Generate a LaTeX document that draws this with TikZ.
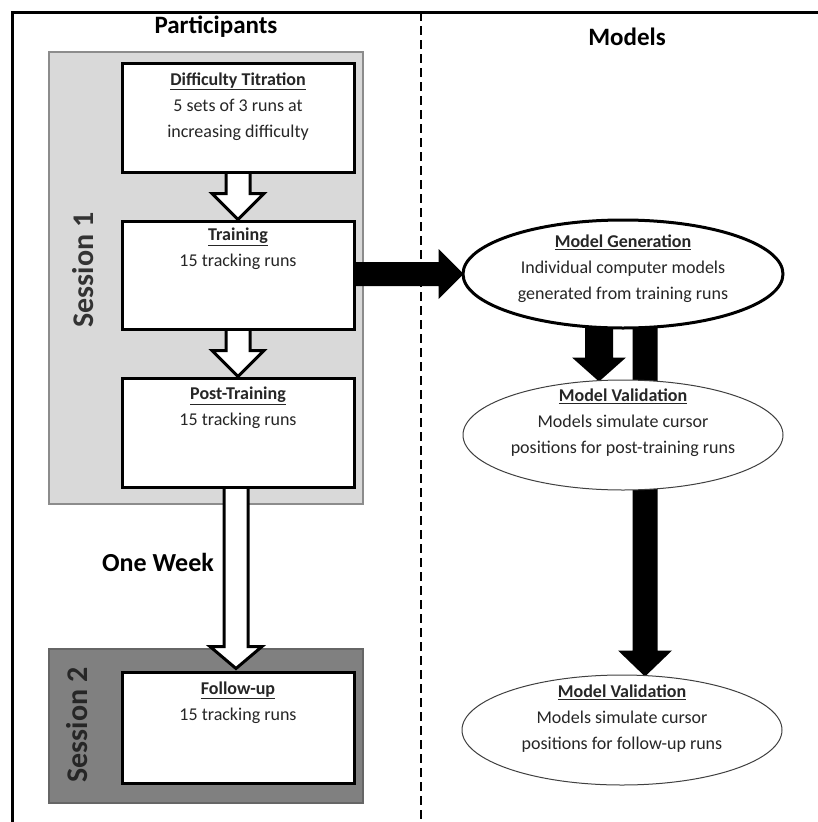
\documentclass[tikz,border=0pt]{standalone}
\usepackage{fontspec}
\setmainfont{Carlito}
\usetikzlibrary{positioning,calc,shapes.geometric}
\pgfdeclarelayer{fundo}
\pgfdeclarelayer{setas}
\pgfsetlayers{fundo,setas,main}

% Seta larga para baixo: estilo, origem, ponta, meia alma, meia cabeça, comprimento da cabeça
\newcommand{\setabaixo}[6]{%
  \path[#1] let \p1=(#2), \p2=(#3) in
    (\x2-#4pt,\y1) -- (\x2-#4pt,\y2+#6pt) -- (\x2-#5pt,\y2+#6pt) -- (\x2,\y2)
    -- (\x2+#5pt,\y2+#6pt) -- (\x2+#4pt,\y2+#6pt) -- (\x2+#4pt,\y1) -- cycle;}
% Seta larga para a direita
\newcommand{\setadireita}[6]{%
  \path[#1] let \p1=(#2), \p2=(#3) in
    (\x1,\y2-#4pt) -- (\x2-#6pt,\y2-#4pt) -- (\x2-#6pt,\y2-#5pt) -- (\x2,\y2)
    -- (\x2-#6pt,\y2+#5pt) -- (\x2-#6pt,\y2+#4pt) -- (\x1,\y2+#4pt) -- cycle;}

\begin{document}
\begin{tikzpicture}[
    % 1 unidade = 1 pixel da figura original, y para baixo
    x=1pt, y=-1pt,
    stepbox/.style={draw, line width=3pt, fill=white, minimum width=232pt, minimum height=109pt, inner sep=0pt},
    steptext/.style={align=center, inner sep=0pt, text=black!85, font=\fontsize{18}{26}\selectfont},
    ovalbox/.style={ellipse, draw, fill=white, minimum width=320pt, minimum height=110pt, inner sep=0pt},
    hollowarrow/.style={draw, line width=3pt, fill=white, line join=miter},
    solidarrow/.style={fill=black},
    heading/.style={font=\bfseries\fontsize{25}{30}\selectfont},
    sessionlabel/.style={rotate=90, font=\bfseries\fontsize{30}{36}\selectfont}
]
    \useasboundingbox (0,0) rectangle (818,822);

    % ==========================================
    % 1. MOLDURA E DIVISÓRIA
    % ==========================================
    \draw[line width=3pt] (12,822) -- (12,12) -- (818,12); % Borda esquerda e superior
    \draw[line width=2pt, dash pattern=on 9pt off 5pt] (421,12) -- (421,822); % Linha tracejada

    \node[heading] (participants) at (216,27) {Participants};
    \node[heading] (models) at (627,37) {Models};

    % ==========================================
    % 2. SESSÕES (fundo cinza)
    % ==========================================
    \begin{pgfonlayer}{fundo}
        \draw[fill=black!15, draw=black!45, line width=1.2pt] (49,52) rectangle (363,504); % Sessão 1
        \draw[fill=black!50, draw=black!60, line width=1.2pt] (49,649) rectangle (363,803); % Sessão 2
    \end{pgfonlayer}
    \node[sessionlabel, text=black!80] (session1) at (83,270) {Session 1};
    \node[sessionlabel, text=black!85] (session2) at (77,725) {Session 2};

    % ==========================================
    % 3. ETAPAS DOS PARTICIPANTES
    % ==========================================
    \node[stepbox] (titration) at (238,117.5) {};
    \node[steptext, below=11pt of titration.north] (titrationtext)
        {\textbf{\underline{Difficulty Titration}}\\5 sets of 3 runs at\\increasing difficulty};

    \node[stepbox, minimum height=108pt] (training) at (238,275) {};
    \node[steptext, below=8pt of training.north] (trainingtext)
        {\textbf{\underline{Training}}\\15 tracking runs};

    \node[stepbox] (posttraining) at (238,432.5) {};
    \node[steptext, below=10pt of posttraining.north] (posttrainingtext)
        {\textbf{\underline{Post-Training}}\\15 tracking runs};

    \node[stepbox, minimum height=111pt] (followup) at (238,727.5) {};
    \node[steptext, below=11pt of followup.north] (followuptext)
        {\textbf{\underline{Follow-up}}\\15 tracking runs};

    \node[font=\bfseries\fontsize{26}{31}\selectfont] (oneweek) at (158,562) {One Week};

    % ==========================================
    % 4. MODELOS
    % ==========================================
    \node[ovalbox, line width=3pt, minimum height=108pt] (generation) at (623,274) {};
    \node[steptext, yshift=5pt] (generationtext) at (generation.center)
        {\textbf{\underline{Model Generation}}\\Individual computer models\\generated from training runs};

    \node[ovalbox, line width=1pt, draw=black!75] (validation) at (623,435) {};
    \node[steptext, yshift=12pt] (validationtext) at (validation.center)
        {\textbf{\underline{Model Validation}}\\Models simulate cursor\\positions for post-training runs};

    \node[ovalbox, line width=1pt, draw=black!75] (followvalidation) at (622,730) {};
    \node[steptext, yshift=11pt] (followvalidationtext) at (followvalidation.center)
        {\textbf{\underline{Model Validation}}\\Models simulate cursor\\positions for follow-up runs};

    % ==========================================
    % 5. SETAS
    % ==========================================
    \begin{pgfonlayer}{setas}
        \setabaixo{hollowarrow}{titration.center}{training.north}{12}{26}{26}
        \setabaixo{hollowarrow}{training.center}{posttraining.north}{12}{26}{26}
        \setabaixo{hollowarrow}{$(posttraining.center)+(-2,0)$}{$(followup.north)+(-2,-2)$}{12}{26}{22}
        \setadireita{solidarrow}{training.center}{$(generation.west)+(2,0)$}{12}{25}{25}
        \setabaixo{solidarrow}{$(generation.center)+(-24,0)$}{$(validation.north)+(-24,2)$}{14}{27}{24}
        \setabaixo{solidarrow}{$(generation.center)+(22,0)$}{$(followvalidation.north)+(23,2)$}{12.5}{27}{26}
    \end{pgfonlayer}

\end{tikzpicture}
\end{document}
